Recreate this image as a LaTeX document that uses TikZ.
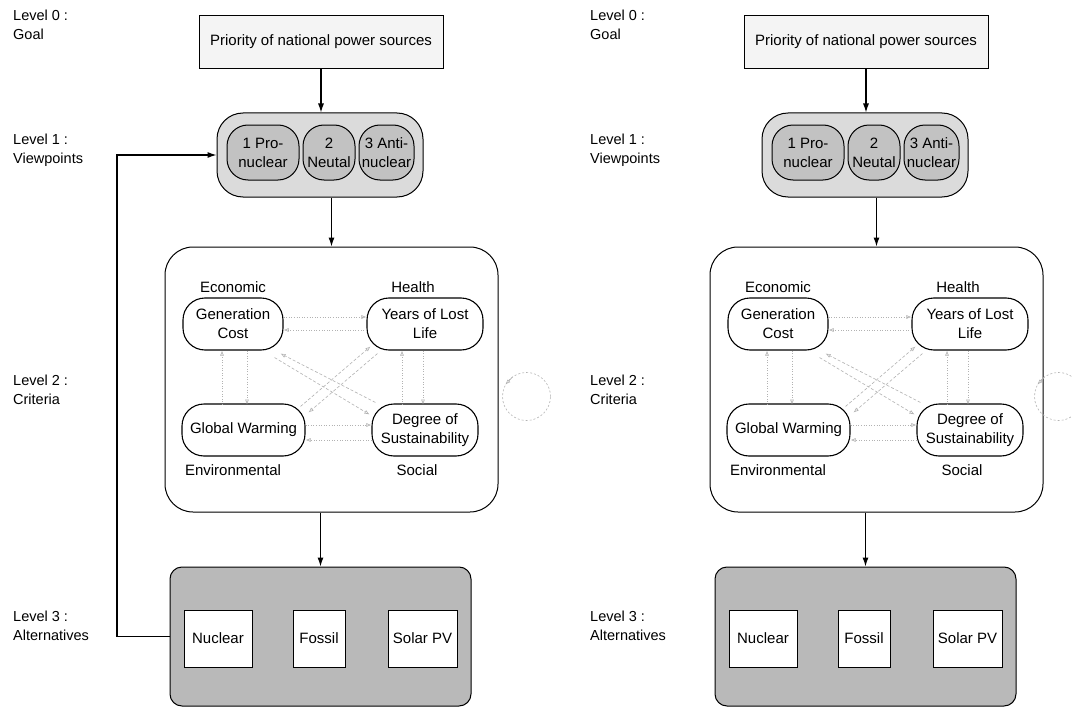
\documentclass[tikz,border=0pt]{standalone}
\usepackage{fontspec}
\setmainfont{Liberation Sans}
\usetikzlibrary{arrows.meta,calc}
\tikzset{
  every node/.style={font=\fontsize{15}{19}\selectfont, inner sep=0pt},
  lvl/.style={anchor=north west, align=left, font=\fontsize{14.5}{19}\selectfont},
  goalbox/.style={draw, line width=0.7pt, fill=gray!9},
  vpouter/.style={draw, line width=1pt, fill=gray!28, rounded corners=26pt},
  vppill/.style={draw, line width=1pt, fill=gray!48, rounded corners=21pt, align=center, minimum height=55pt},
  critbox/.style={draw, line width=1pt, fill=white, rounded corners=28pt},
  cpill/.style={draw, line width=1.1pt, fill=white, rounded corners=22pt, align=center, minimum height=52pt},
  altbox/.style={draw, line width=1pt, fill=gray!55, rounded corners=12pt},
  altitem/.style={draw, line width=0.8pt, fill=white, minimum height=57pt},
  arr/.style={-{Latex[length=9pt,width=6pt]}, line width=1.1pt},
  carr/.style={draw=gray!60, line width=0.6pt, -{Latex[open,length=5pt,width=4pt]}},
  cdot/.style={carr, dotted},
  cdash/.style={carr, dash pattern=on 3pt off 2pt},
  loopline/.style={draw=gray!60, line width=0.6pt, dash pattern=on 2pt off 2pt},
}
\newcommand{\ahppanel}[4]{%
\begin{scope}[shift={(#2,0)}]
\node[lvl] (#1lv0) at (#3,10) {Level 0 :\\Goal};
\node[lvl] (#1lv1) at (#3,134) {Level 1 :\\Viewpoints};
\node[lvl] (#1lv2) at (#3,375) {Level 2 :\\Criteria};
\node[lvl] (#1lv3) at (#3,611) {Level 3 :\\Alternatives};
\node[goalbox, minimum width=244pt, minimum height=53pt] (#1goal) at (321,41.5) {Priority of national power sources};
\node[vpouter, minimum width=206pt, minimum height=84pt] (#1vp) at (320,155) {};
\node[vppill, minimum width=72pt] (#1p1) at (263,152.5) {1 Pro-\\nuclear};
\node[vppill, minimum width=52pt] (#1p2) at (329,152.5) {2\\Neutal};
\node[vppill, minimum width=55pt] (#1p3) at (386.5,152.5) {3 Anti-\\nuclear};
\node[critbox, minimum width=333pt, minimum height=265pt] (#1crit) at (331.5,379.5) {};
\node (#1econ) at (233,287) {Economic};
\node (#1hlth) at (413,287) {Health};
\node (#1env) at (233,470) {Environmental};
\node (#1soc) at (417,470) {Social};
\node[cpill, minimum width=100pt] (#1gc) at (233,324) {Generation\\Cost};
\node[cpill, minimum width=116pt] (#1yl) at (425,324) {Years of Lost\\Life};
\node[cpill, minimum width=123pt] (#1gw) at (243.5,430) {Global Warming};
\node[cpill, minimum width=106pt] (#1ds) at (425,430) {Degree of\\Sustainability};
\node[altbox, minimum width=301pt, minimum height=139pt] (#1alt) at (320.5,636.5) {};
\node[altitem, minimum width=68pt] (#1nuc) at (218,638.5) {Nuclear};
\node[altitem, minimum width=52pt] (#1fos) at (319,638.5) {Fossil};
\node[altitem, minimum width=69pt] (#1sol) at (422.5,638.5) {Solar PV};
\draw[arr] (#1goal.south) -- (#1goal.south |- #1vp.north);
\draw[arr] (#1crit.north |- #1vp.south) -- (#1crit.north);
\draw[arr] (#1alt.north |- #1crit.south) -- (#1alt.north);
\draw[cdot] ([yshift=7pt]#1gc.east) -- ([yshift=7pt]#1gc.east -| #1yl.west);
\draw[cdot] ([yshift=-6pt]#1yl.west) -- ([yshift=-6pt]#1yl.west -| #1gc.east);
\draw[cdot] ($(#1gc.south)+(-11,54)$) -- ($(#1gc.south)+(-11,0)$);
\draw[cdot] ($(#1gc.south)+(14,0)$) -- ($(#1gc.south)+(14,54)$);
\draw[cdot] ($(#1yl.south)+(-23,54)$) -- ($(#1yl.south)+(-23,0)$);
\draw[cdot] ($(#1yl.south)+(-2,0)$) -- ($(#1yl.south)+(-2,54)$);
\draw[cdot] ($(#1gw.east)+(0,-5)$) -- ($(#1ds.west)+(0,-5)$);
\draw[cdot] ($(#1ds.west)+(0,10)$) -- ($(#1gw.east)+(0,10)$);
\draw[cdash] ($(#1ds.north west)+(4,-1)$) -- ($(#1gc.south east)+(-3,3)$);
\draw[cdash] ($(#1gc.south east)+(-9,7)$) -- ($(#1ds.north west)+(-2,11)$);
\draw[cdash] ($(#1gw.north east)+(-5,3)$) -- ($(#1yl.south west)+(4,-4)$);
\draw[cdash] ($(#1yl.south west)+(11,3)$) -- ($(#1gw.north east)+(3,9)$);
\coordinate (#1loop) at ($(#1crit.east)+(#4,17)$);
\draw[loopline] (#1loop) circle[radius=24pt];
\draw[carr] ($(#1loop)+(-14,-19.5)$) -- ($(#1loop)+(-21,-12)$);
\end{scope}}
\begin{document}
\begin{tikzpicture}[x=1pt,y=-1pt]
\useasboundingbox (0,0) rectangle (1072,709);
\ahppanel{L}{0}{13}{28}
\ahppanel{R}{545}{45}{15}
\coordinate (fbturn) at (117,636.5);
\draw[arr] (Lalt.west) -- (fbturn) |- (Lvp.west);
\end{tikzpicture}
\end{document}
